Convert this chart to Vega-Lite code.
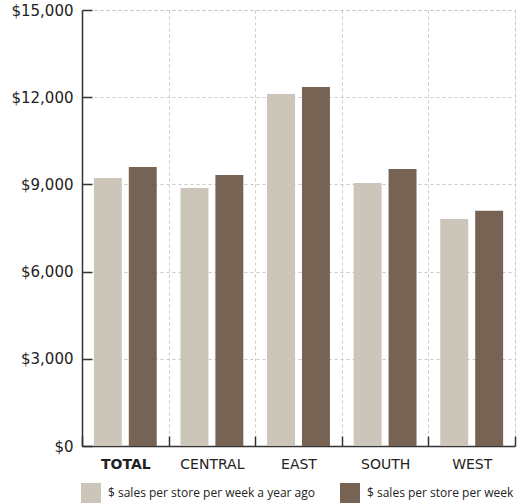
{
  "$schema": "https://vega.github.io/schema/vega-lite/v6.json",
  "width": 433,
  "height": 436,
  "autosize": {"type": "none"},
  "padding": {"left": 82, "top": 10, "right": 7, "bottom": 58},
  "data": {
    "values": [
      {"region": "TOTAL", "series": "$ sales per store per week a year ago", "sales": 9220},
      {"region": "TOTAL", "series": "$ sales per store per week", "sales": 9600},
      {"region": "CENTRAL", "series": "$ sales per store per week a year ago", "sales": 8880},
      {"region": "CENTRAL", "series": "$ sales per store per week", "sales": 9320},
      {"region": "EAST", "series": "$ sales per store per week a year ago", "sales": 12110},
      {"region": "EAST", "series": "$ sales per store per week", "sales": 12350},
      {"region": "SOUTH", "series": "$ sales per store per week a year ago", "sales": 9050},
      {"region": "SOUTH", "series": "$ sales per store per week", "sales": 9530},
      {"region": "WEST", "series": "$ sales per store per week a year ago", "sales": 7810},
      {"region": "WEST", "series": "$ sales per store per week", "sales": 8090}
    ]
  },
  "mark": {"type": "bar"},
  "encoding": {
    "x": {
      "field": "region",
      "type": "nominal",
      "sort": ["TOTAL", "CENTRAL", "EAST", "SOUTH", "WEST"],
      "scale": {"paddingInner": 0, "paddingOuter": 0},
      "axis": {
        "title": null,
        "labelAngle": 0,
        "tickBand": "extent",
        "tickSize": -10,
        "tickColor": "#333",
        "tickWidth": 1.5,
        "domainColor": "#333",
        "domainWidth": 1.5,
        "grid": true,
        "gridColor": "#c8c8c8",
        "gridDash": [3, 3],
        "gridWidth": 1,
        "labelFont": "DejaVu Sans",
        "labelFontSize": 14,
        "labelColor": "#222",
        "labelPadding": 21,
        "labelFontWeight": {"condition": {"test": "datum.value === 'TOTAL'", "value": "bold"}, "value": "normal"}
      }
    },
    "xOffset": {
      "field": "series",
      "type": "nominal",
      "sort": ["$ sales per store per week a year ago", "$ sales per store per week"],
      "scale": {"paddingInner": 0.2, "paddingOuter": 0.34}
    },
    "y": {
      "field": "sales",
      "type": "quantitative",
      "scale": {"domain": [0, 15000], "nice": false},
      "axis": {
        "title": null,
        "values": [0, 3000, 6000, 9000, 12000, 15000],
        "format": "$,.0f",
        "tickSize": -10,
        "tickColor": "#333",
        "tickWidth": 1.5,
        "domainColor": "#333",
        "domainWidth": 1.5,
        "grid": true,
        "gridColor": "#c8c8c8",
        "gridDash": [3, 3],
        "gridWidth": 1,
        "labelFont": "DejaVu Sans",
        "labelFontSize": 15,
        "labelColor": "#222",
        "labelPadding": 19
      }
    },
    "color": {
      "field": "series",
      "type": "nominal",
      "scale": {
        "domain": ["$ sales per store per week a year ago", "$ sales per store per week"],
        "range": ["#ccc5b9", "#766354"]
      },
      "legend": {
        "title": null,
        "orient": "none",
        "direction": "horizontal",
        "legendX": -1,
        "legendY": 473,
        "symbolType": "square",
        "symbolSize": 400,
        "symbolStrokeWidth": 0,
        "symbolOpacity": 1,
        "labelFont": "Open Sans",
        "labelFontSize": 12,
        "labelColor": "#222",
        "labelOffset": 7,
        "columnPadding": 25,
        "labelLimit": 300
      }
    }
  },
  "config": {
    "view": {"stroke": "#c8c8c8", "strokeDash": [3, 3]}
  }
}
